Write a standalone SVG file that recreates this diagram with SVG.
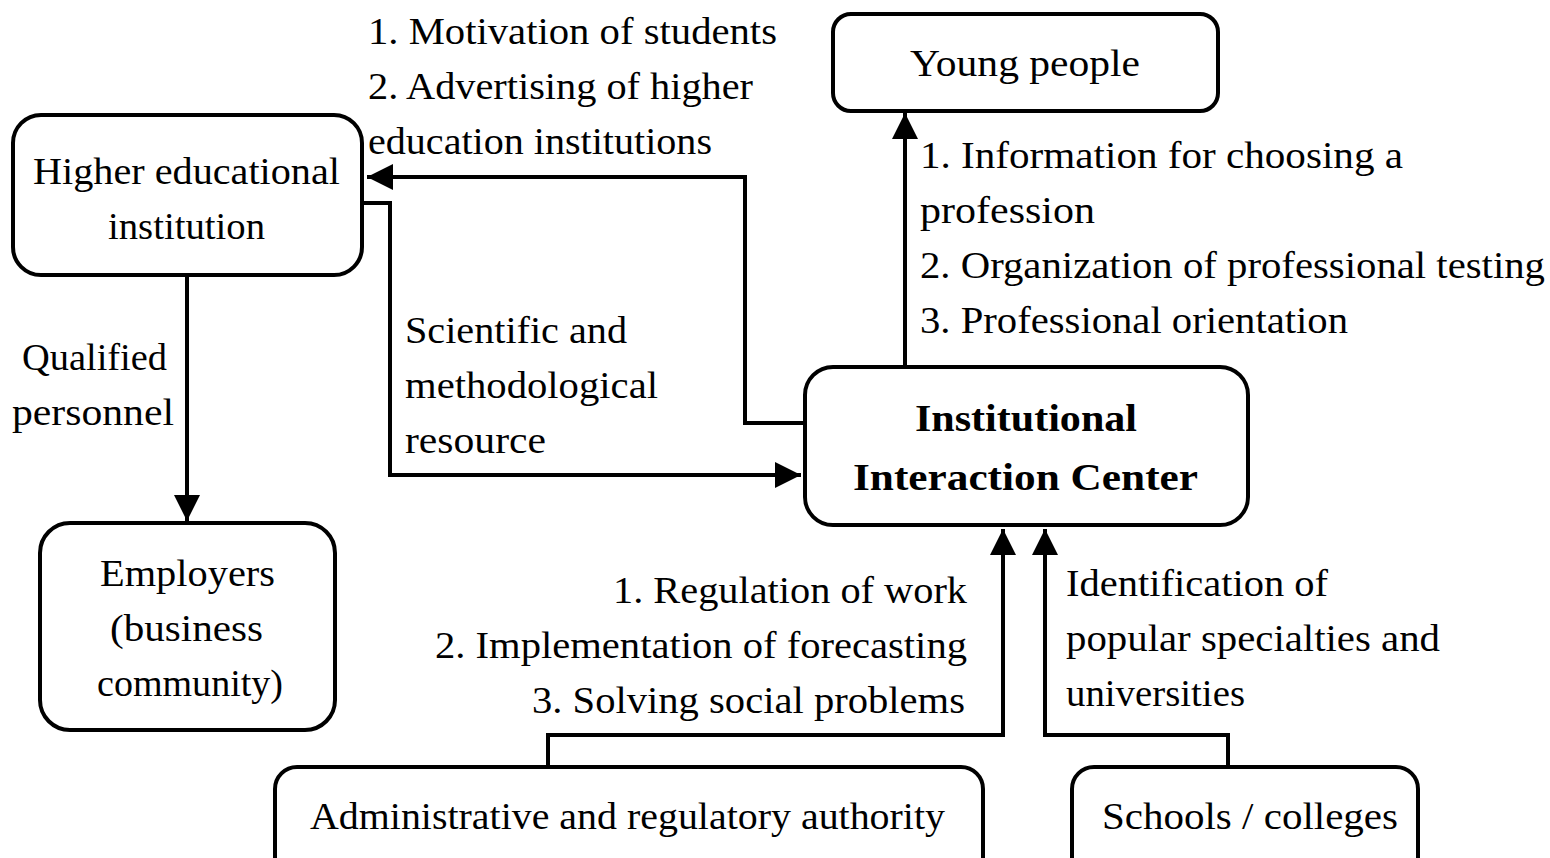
<svg xmlns="http://www.w3.org/2000/svg" width="1550" height="858" viewBox="0 0 1550 858">
<defs>
<style>
.box{fill:#fff;stroke:#000;stroke-width:4}
.ln{fill:none;stroke:#000;stroke-width:4}
text{font-family:"Liberation Serif","Times New Roman",serif;font-size:38px;fill:#000}
.c{text-anchor:middle}
.r{text-anchor:end}
.b{font-weight:bold;font-size:37px}
</style>
<marker id="ah" viewBox="0 0 10 10" refX="10" refY="5" markerWidth="7" markerHeight="6.5" markerUnits="strokeWidth" orient="auto">
<path d="M0,0 L10,5 L0,10 Z" fill="#000"/>
</marker>
</defs>
<rect width="1550" height="858" fill="#fff"/>
<g id="connectors">
<path class="ln" d="M803,423 H745 V177 H367" marker-end="url(#ah)"/>
<path class="ln" d="M362,203 H390 V475 H801" marker-end="url(#ah)"/>
<path class="ln" d="M187,275 V521" marker-end="url(#ah)"/>
<path class="ln" d="M905,367 V113" marker-end="url(#ah)"/>
<path class="ln" d="M548,767 V735 H1003 V529" marker-end="url(#ah)"/>
<path class="ln" d="M1228,767 V735 H1045 V529" marker-end="url(#ah)"/>
</g>
<g id="labels">
<text x="368" y="44" textLength="409" lengthAdjust="spacingAndGlyphs">1. Motivation of students</text>
<text x="368" y="99" textLength="385" lengthAdjust="spacingAndGlyphs">2. Advertising of higher</text>
<text x="368" y="154" textLength="344" lengthAdjust="spacingAndGlyphs">education institutions</text>
<text x="920" y="168" textLength="483" lengthAdjust="spacingAndGlyphs">1. Information for choosing a</text>
<text x="920" y="223" textLength="175" lengthAdjust="spacingAndGlyphs">profession</text>
<text x="920" y="278" textLength="625" lengthAdjust="spacingAndGlyphs">2. Organization of professional testing</text>
<text x="920" y="333" textLength="428" lengthAdjust="spacingAndGlyphs">3. Professional orientation</text>
<text x="22" y="370" textLength="145" lengthAdjust="spacingAndGlyphs">Qualified</text>
<text x="12" y="425" textLength="162" lengthAdjust="spacingAndGlyphs">personnel</text>
<text x="405" y="343" textLength="222" lengthAdjust="spacingAndGlyphs">Scientific and</text>
<text x="405" y="398" textLength="253" lengthAdjust="spacingAndGlyphs">methodological</text>
<text x="405" y="453" textLength="141" lengthAdjust="spacingAndGlyphs">resource</text>
<text x="613" y="603" textLength="354" lengthAdjust="spacingAndGlyphs">1. Regulation of work</text>
<text x="435" y="658" textLength="532" lengthAdjust="spacingAndGlyphs">2. Implementation of forecasting</text>
<text x="532" y="713" textLength="433" lengthAdjust="spacingAndGlyphs">3. Solving social problems</text>
<text x="1066" y="596" textLength="262" lengthAdjust="spacingAndGlyphs">Identification of</text>
<text x="1066" y="651" textLength="374" lengthAdjust="spacingAndGlyphs">popular specialties and</text>
<text x="1066" y="706" textLength="179" lengthAdjust="spacingAndGlyphs">universities</text>
</g>
<g id="young">
<rect class="box" x="833" y="14" width="385" height="97" rx="18"/>
<text x="910" y="76" textLength="230" lengthAdjust="spacingAndGlyphs">Young people</text>
</g>
<g id="hei">
<rect class="box" x="13" y="115" width="349" height="160" rx="28"/>
<text x="33" y="184" textLength="307" lengthAdjust="spacingAndGlyphs">Higher educational</text>
<text x="108" y="239" textLength="157" lengthAdjust="spacingAndGlyphs">institution</text>
</g>
<g id="employers">
<rect class="box" x="40" y="523" width="295" height="207" rx="30"/>
<text x="100" y="586" textLength="175" lengthAdjust="spacingAndGlyphs">Employers</text>
<text x="110" y="641" textLength="153" lengthAdjust="spacingAndGlyphs">(business</text>
<text x="97" y="696" textLength="186" lengthAdjust="spacingAndGlyphs">community)</text>
</g>
<g id="center">
<rect class="box" x="805" y="367" width="443" height="158" rx="28"/>
<text class="b" x="915" y="431" textLength="222" lengthAdjust="spacingAndGlyphs">Institutional</text>
<text class="b" x="853" y="490" textLength="345" lengthAdjust="spacingAndGlyphs">Interaction Center</text>
</g>
<g id="admin">
<rect class="box" x="275" y="767" width="708" height="120" rx="22"/>
<text x="310" y="829" textLength="635" lengthAdjust="spacingAndGlyphs">Administrative and regulatory authority</text>
</g>
<g id="schools">
<rect class="box" x="1072" y="767" width="346" height="120" rx="22"/>
<text x="1102" y="829" textLength="296" lengthAdjust="spacingAndGlyphs">Schools / colleges</text>
</g>
</svg>
